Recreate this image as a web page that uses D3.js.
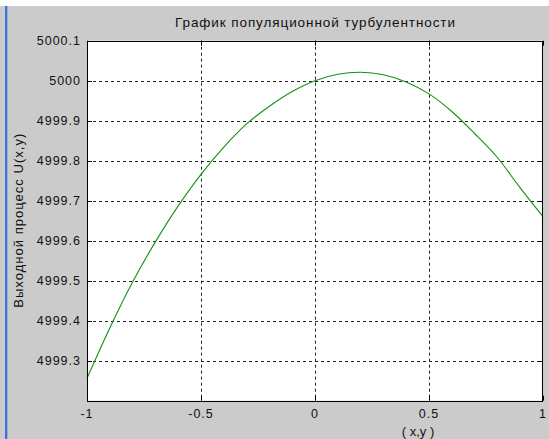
<!DOCTYPE html>
<html>
<head>
<meta charset="utf-8">
<script src="https://cdn.jsdelivr.net/npm/d3@7"></script>
<style>
  html, body { margin: 0; padding: 0; background: #cbcbcb; }
  svg { display: block; }
  text { font-family: "Liberation Sans", Arial, sans-serif; fill: #111; }
</style>
</head>
<body>
<svg id="viz"></svg>
<script>
// values
const xValues = [-1, -0.9, -0.8, -0.7, -0.6, -0.5, -0.4, -0.3, -0.2, -0.1, 0,
                 0.1, 0.2, 0.3, 0.4, 0.5, 0.6, 0.7, 0.8, 0.9, 1];
const uValues = [4999.256, 4999.382, 4999.497, 4999.597, 4999.687, 4999.766, 4999.834,
                 4999.892, 4999.936, 4999.973, 5000.0, 5000.016, 5000.021, 5000.015,
                 4999.997, 4999.967, 4999.923, 4999.868, 4999.808, 4999.732, 4999.66];
const xTicks = [-1, -0.5, 0, 0.5, 1];
const yTicks = [4999.3, 4999.4, 4999.5, 4999.6, 4999.7, 4999.8, 4999.9, 5000, 5000.1];
const xDomain = [-1, 1];
const yDomain = [4999.2, 5000.1];
const titleText = "График популяционной турбулентности";
const xLabel = "( x,y )";
const yLabel = "Выходной процесс U(x,y)";

let W = 549, H = 439;
let svg = d3.select("#viz").attr("width", W).attr("height", H);

// window chrome: white strip on top, blue edge on the left
svg.append("rect").attr("x", 0).attr("y", 0).attr("width", W).attr("height", H).attr("fill", "#cbcbcb");
svg.append("rect").attr("x", 0).attr("y", 0).attr("width", W).attr("height", 6).attr("fill", "#ffffff");
svg.append("rect").attr("x", 5).attr("y", 6).attr("width", 2).attr("height", H - 6).attr("fill", "#3f74cf");
svg.append("rect").attr("x", 7).attr("y", 6).attr("width", 1).attr("height", H - 6).attr("fill", "#8fb0e6");

let pLeft = 87, pTop = 40.7, pRight = 543, pBottom = 400.7;

let x = d3.scaleLinear().domain(xDomain).range([pLeft, pRight]);
let y = d3.scaleLinear().domain(yDomain).range([pBottom, pTop]);

// plot area
svg.append("rect")
  .attr("x", pLeft).attr("y", pTop)
  .attr("width", pRight - pLeft).attr("height", pBottom - pTop)
  .attr("fill", "#fff");

// grid
let grid = svg.append("g").attr("stroke", "#222").attr("stroke-width", 1).attr("stroke-dasharray", "3,3");
grid.selectAll("line.gy")
  .data(yTicks.filter(d => d < yDomain[1]))
  .enter().append("line")
  .attr("x1", pLeft).attr("x2", pRight)
  .attr("y1", d => Math.round(y(d)) + 0.5).attr("y2", d => Math.round(y(d)) + 0.5);
grid.selectAll("line.gx")
  .data(xTicks.filter(d => d > xDomain[0] && d < xDomain[1]))
  .enter().append("line")
  .attr("y1", pTop).attr("y2", pBottom)
  .attr("x1", d => Math.round(x(d)) + 0.5).attr("x2", d => Math.round(x(d)) + 0.5);

// curve
let line = d3.line()
  .x((d, i) => x(xValues[i]))
  .y(d => y(d))
  .curve(d3.curveCatmullRom);
svg.append("path")
  .datum(uValues)
  .attr("d", line)
  .attr("fill", "none")
  .attr("stroke", "#119211")
  .attr("stroke-width", 1.1);

// inward ticks on all four sides
let tk = 5;
let ticks = svg.append("g").attr("stroke", "#000").attr("stroke-width", 1);
yTicks.forEach(d => {
  let yy = Math.round(y(d)) + 0.5;
  ticks.append("line").attr("x1", pLeft).attr("x2", pLeft + tk).attr("y1", yy).attr("y2", yy);
  ticks.append("line").attr("x1", pRight - tk).attr("x2", pRight).attr("y1", yy).attr("y2", yy);
});
xTicks.forEach(d => {
  let xx = Math.round(x(d)) + 0.5;
  ticks.append("line").attr("y1", pBottom).attr("y2", pBottom - tk).attr("x1", xx).attr("x2", xx);
  ticks.append("line").attr("y1", pTop).attr("y2", pTop + tk).attr("x1", xx).attr("x2", xx);
});

// box
svg.append("rect")
  .attr("x", pLeft + 0.5).attr("y", Math.round(pTop) + 0.5)
  .attr("width", pRight - pLeft - 1).attr("height", Math.round(pBottom) - Math.round(pTop))
  .attr("fill", "none").attr("stroke", "#000").attr("stroke-width", 1);

// tick labels
svg.append("g").selectAll("text")
  .data(yTicks)
  .enter().append("text")
  .attr("x", pLeft - 6)
  .attr("y", d => y(d))
  .attr("dy", "0.36em")
  .attr("text-anchor", "end")
  .style("font-size", "12.5px")
  .style("letter-spacing", "1px")
  .text(d => String(+d.toFixed(1)));

svg.append("g").selectAll("text")
  .data(xTicks)
  .enter().append("text")
  .attr("x", d => x(d))
  .attr("y", 418)
  .attr("text-anchor", "middle")
  .style("font-size", "12.5px")
  .style("letter-spacing", "1px")
  .text(d => String(d));

// titles
svg.append("text")
  .attr("x", (pLeft + pRight) / 2).attr("y", 27)
  .attr("text-anchor", "middle")
  .attr("textLength", 280).attr("lengthAdjust", "spacing")
  .style("font-size", "13.5px")
  .text(titleText);

svg.append("text")
  .attr("x", 418).attr("y", 436)
  .attr("text-anchor", "middle")
  .style("font-size", "13px")
  .text(xLabel);

svg.append("text")
  .attr("transform", "translate(23," + ((pTop + pBottom) / 2) + ") rotate(-90)")
  .attr("text-anchor", "middle")
  .attr("textLength", 174).attr("lengthAdjust", "spacing")
  .style("font-size", "13px")
  .text(yLabel);
</script>
</body>
</html>
